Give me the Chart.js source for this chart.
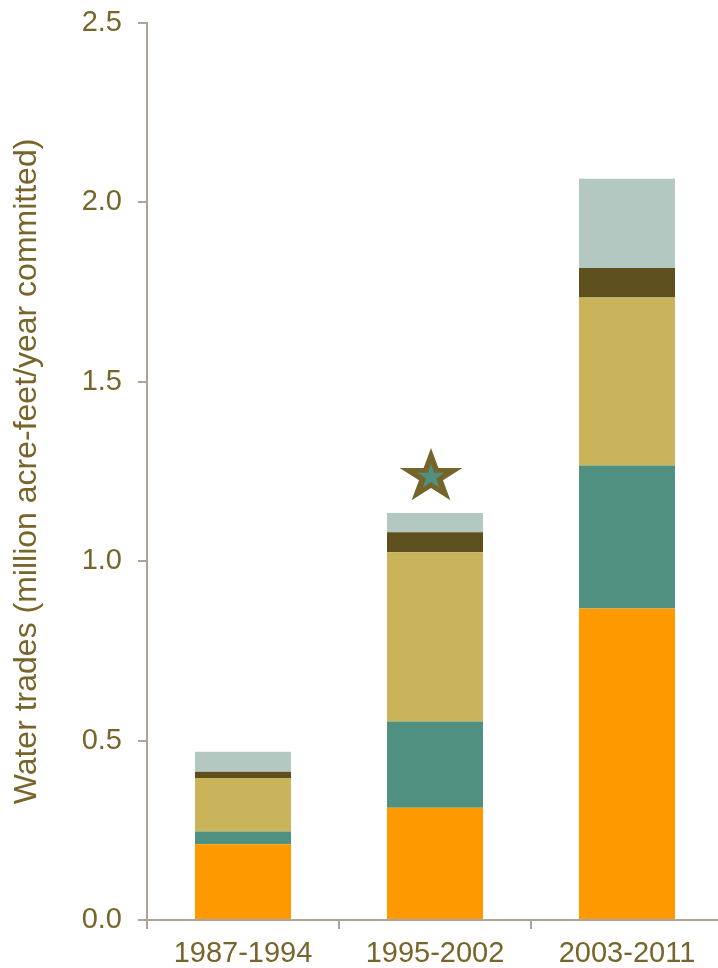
<!DOCTYPE html>
<html>
<head>
<meta charset="utf-8">
<script src="https://cdn.jsdelivr.net/npm/chart.js@4.4.1/dist/chart.umd.min.js"></script>
<style>
    html, body { margin: 0; padding: 0; background: #ffffff; overflow: hidden; }
    #wrap { width: 724px; height: 968px; }
</style>
</head>
<body>
<div id="wrap"><canvas id="tradesChart" width="723" height="968"></canvas></div>
<script>
// Dados
const categories = ['1987-1994', '1995-2002', '2003-2011'];
const orangeValues = [0.211, 0.313, 0.868];
const tealValues   = [0.036, 0.240, 0.399];
const tanValues    = [0.149, 0.472, 0.468];
const darkValues   = [0.017, 0.056, 0.082];
const lightValues  = [0.056, 0.053, 0.249];
const yTicks = [0, 0.5, 1.0, 1.5, 2.0, 2.5];
const starCategory = 1;
const starValue = 1.235;

const colors = {
    orange: '#FF9900',
    teal: '#4F9080',
    tan: '#C9B35B',
    dark: '#5E4F1F',
    light: '#B3C8C1',
    text: '#77652B',
    axis: '#ABA698',
    star: '#76652A'
};

Chart.defaults.font.family = "'Liberation Sans', Arial, sans-serif";
Chart.defaults.color = colors.text;

// Estrela sobre a barra do meio
function starPath(ctx, cx, cy, rx, ry) {
    ctx.beginPath();
    for (let i = 0; i < 10; i++) {
        const r = i % 2 === 0 ? 1 : 0.382;
        const a = -Math.PI / 2 + i * Math.PI / 5;
        const px = cx + Math.cos(a) * rx * r;
        const py = cy + Math.sin(a) * ry * r;
        if (i === 0) ctx.moveTo(px, py); else ctx.lineTo(px, py);
    }
    ctx.closePath();
}

const starPlugin = {
    id: 'starMark',
    afterDatasetsDraw(chart) {
        const ctx = chart.ctx;
        const x = chart.scales.x.getPixelForValue(starCategory) - 4;
        const y = chart.scales.y.getPixelForValue(starValue);
        ctx.save();
        starPath(ctx, x, y, 33, 29);
        ctx.fillStyle = colors.star;
        ctx.fill();
        starPath(ctx, x, y, 14, 13.4);
        ctx.fillStyle = colors.teal;
        ctx.fill();
        ctx.restore();
    }
};

function makeSet(label, data, color) {
    return {
        label: label,
        data: data,
        backgroundColor: color,
        borderWidth: 0,
        barPercentage: 0.5,
        categoryPercentage: 1.0,
        stack: 'trades'
    };
}

new Chart(document.getElementById('tradesChart'), {
    type: 'bar',
    data: {
        labels: categories,
        datasets: [
            makeSet('A', orangeValues, colors.orange),
            makeSet('B', tealValues, colors.teal),
            makeSet('C', tanValues, colors.tan),
            makeSet('D', darkValues, colors.dark),
            makeSet('E', lightValues, colors.light)
        ]
    },
    options: {
        responsive: false,
        animation: false,
        layout: { padding: { top: 23, left: 0, right: 0, bottom: 0 } },
        plugins: {
            legend: { display: false },
            tooltip: { enabled: false }
        },
        scales: {
            x: {
                stacked: true,
                afterFit(scale) {
                    scale.height = 48;
                    scale.paddingLeft = 0;
                    scale.paddingRight = 0;
                },
                grid: {
                    offset: true,
                    drawOnChartArea: false,
                    drawTicks: true,
                    tickLength: 9,
                    color: colors.axis,
                    lineWidth: 2
                },
                border: { display: true, color: colors.axis, width: 2 },
                ticks: {
                    color: colors.text,
                    font: { size: 29 },
                    padding: 8,
                    maxRotation: 0
                }
            },
            y: {
                stacked: true,
                min: 0,
                max: 2.5,
                afterFit(scale) {
                    scale.width = 147;
                    scale.paddingTop = 0;
                    scale.paddingBottom = 0;
                },
                afterBuildTicks(scale) {
                    scale.ticks = yTicks.map(v => ({ value: v }));
                },
                grid: {
                    drawOnChartArea: false,
                    drawTicks: true,
                    tickLength: 9,
                    color: colors.axis,
                    lineWidth: 2
                },
                border: { display: true, color: colors.axis, width: 2 },
                ticks: {
                    color: colors.text,
                    font: { size: 29 },
                    padding: 16,
                    callback: function(value) {
                        return Number(value).toFixed(1);
                    }
                },
                title: {
                    display: true,
                    text: 'Water trades (million acre-feet/year committed)',
                    color: colors.text,
                    font: { size: 32 },
                    padding: { top: 8, bottom: 0 }
                }
            }
        }
    },
    plugins: [starPlugin]
});
</script>
</body>
</html>
